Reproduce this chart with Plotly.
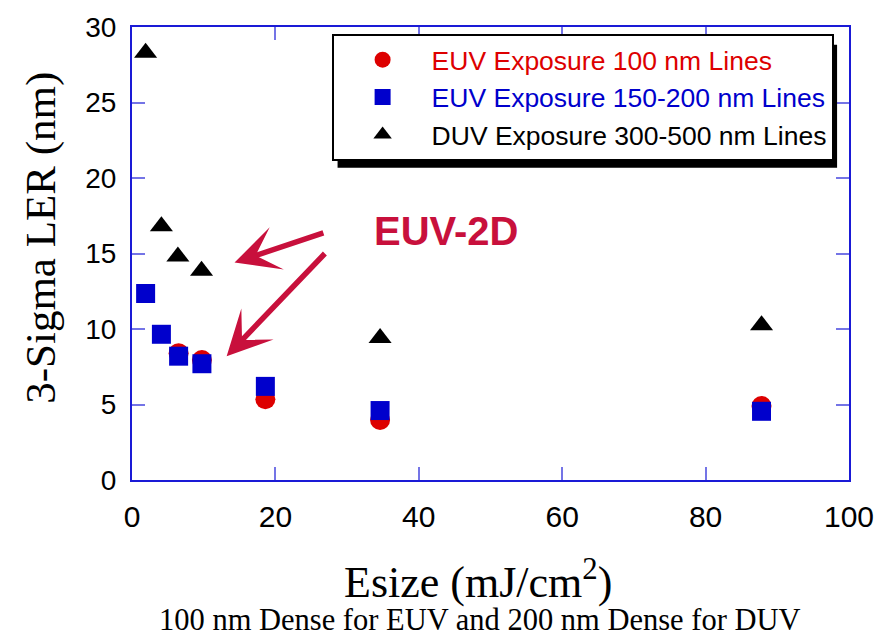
import plotly.graph_objects as go

# ---- data ----
euv100_x = [6.5, 9.75, 18.6, 34.6, 87.8]
euv100_y = [8.4, 7.95, 5.35, 3.97, 4.9]

euv150_x = [1.9, 4.1, 6.5, 9.75, 18.6, 34.6, 87.8]
euv150_y = [12.35, 9.65, 8.2, 7.7, 6.2, 4.6, 4.55]

duv_x = [1.9, 4.1, 6.4, 9.7, 34.6, 87.8]
duv_y = [28.3, 16.8, 14.8, 13.85, 9.4, 10.25]

x_ticks = [0, 20, 40, 60, 80, 100]
y_ticks = [0, 5, 10, 15, 20, 25, 30]

series_names = ["EUV Exposure 100 nm Lines",
                "EUV Exposure 150-200 nm Lines",
                "DUV Exposure 300-500 nm Lines"]

RED = "#dd0000"
BLUE = "#0000cc"
CRIMSON = "#c8103c"
AXBLUE = "#1a1ad6"
TICKBLUE = "#7474e6"

def colored(name, color):
    return f'<span style="color:{color}">{name}</span>'

fig = go.Figure()
fig.add_trace(go.Scatter(x=euv100_x, y=euv100_y, mode="markers",
                         name=colored(series_names[0], RED),
                         marker=dict(symbol="circle", size=20, color=RED)))
fig.add_trace(go.Scatter(x=euv150_x, y=euv150_y, mode="markers",
                         name=colored(series_names[1], BLUE),
                         marker=dict(symbol="square", size=19, color=BLUE)))
fig.add_trace(go.Scatter(x=duv_x, y=duv_y, mode="markers",
                         name=colored(series_names[2], "black"),
                         marker=dict(symbol="triangle-up", size=20, color="black")))

L, R, T, B = 132, 32, 23, 159
W, H = 886, 639
pw, ph = W - L - R, H - T - B

def px(xp):
    return (xp - L) / pw

def py(yp):
    return (H - B - yp) / ph

axis_common = dict(showgrid=False, zeroline=False, showline=True, linewidth=2,
                   linecolor=AXBLUE, mirror="allticks", ticks="inside", ticklen=13,
                   tickwidth=2, tickcolor=TICKBLUE,
                   tickfont=dict(family="Liberation Sans, Arial", size=28, color="black"))

fig.update_xaxes(range=[0, 100], tickvals=x_ticks, ticklabelstandoff=9, **axis_common)
fig.update_yaxes(range=[0, 30], tickvals=y_ticks, ticklabelstandoff=8, **axis_common)
fig.update_xaxes(tickfont_size=30)

fig.update_layout(
    width=W, height=H,
    margin=dict(l=L, r=R, t=T, b=B),
    plot_bgcolor="white", paper_bgcolor="white",
    showlegend=True,
    legend=dict(x=px(333), y=py(30), xanchor="left", yanchor="top",
                bgcolor="white", bordercolor="black", borderwidth=2,
                font=dict(family="Liberation Sans, Arial", size=26.5, color="black"),
                itemwidth=88, itemsizing="trace"),
)

# legend drop shadow
fig.add_shape(type="rect", xref="paper", yref="paper",
              x0=px(339), x1=px(842), y0=py(165), y1=py(41),
              fillcolor="black", line=dict(width=0), layer="above")

# axis titles / notes
fig.add_annotation(xref="paper", yref="paper", x=px(480), y=py(580),
                   text="Esize (mJ/cm<sup>2</sup>)", showarrow=False,
                   font=dict(family="Liberation Serif, Times New Roman", size=44, color="black"),
                   xanchor="center", yanchor="middle")
fig.add_annotation(xref="paper", yref="paper", x=px(482), y=py(621),
                   text="100 nm Dense for EUV and 200 nm Dense for DUV", showarrow=False,
                   font=dict(family="Liberation Serif, Times New Roman", size=30.5, color="black"),
                   xanchor="center", yanchor="middle")
fig.add_annotation(xref="paper", yref="paper", x=px(40), y=py(236),
                   text="3-Sigma LER (nm)", showarrow=False, textangle=-90,
                   font=dict(family="Liberation Serif, Times New Roman", size=43, color="black"),
                   xanchor="center", yanchor="middle")

# EUV-2D label and arrows
fig.add_annotation(xref="x", yref="y", x=43.9, y=16.5, text="<b>EUV-2D</b>", showarrow=False,
                   font=dict(family="Liberation Sans, Arial", size=40, color=CRIMSON))
for tip, tail in [((14.3, 14.4), (26.9, 16.4)), ((13.2, 8.2), (27.1, 15.1))]:
    fig.add_annotation(xref="x", yref="y", axref="x", ayref="y",
                       x=tip[0], y=tip[1], ax=tail[0], ay=tail[1], text="",
                       showarrow=True, arrowhead=3, arrowwidth=5.5, arrowsize=1.35,
                       arrowcolor=CRIMSON, standoff=0)

fig.write_html("out.html")
